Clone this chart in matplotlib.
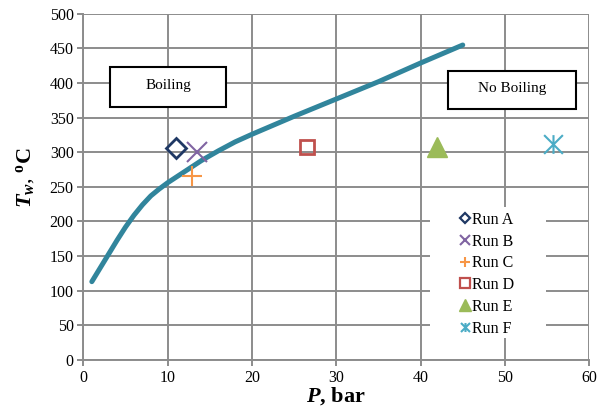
import matplotlib.pyplot as plt
from matplotlib.patches import Rectangle
from matplotlib.path import Path

plt.rcParams['font.family'] = ['Liberation Serif', 'DejaVu Serif']
plt.rcParams['mathtext.fontset'] = 'custom'
plt.rcParams['mathtext.rm'] = 'Liberation Serif:bold'
plt.rcParams['mathtext.it'] = 'Liberation Serif:italic:bold'
plt.rcParams['mathtext.bf'] = 'Liberation Serif:bold'

# boiling boundary curve
curve_p = [1, 2, 3, 4, 5, 6, 7, 8, 9, 10, 12, 14, 16, 18, 20, 25, 30, 35, 40, 45]
curve_t = [113, 133, 153, 173, 192, 209, 224, 237, 247, 256, 272, 288, 302,
           315, 326, 352, 377, 402, 429, 455]

# experimental runs
runs = ['Run A', 'Run B', 'Run C', 'Run D', 'Run E', 'Run F']
run_p = [11.0, 13.5, 12.9, 26.5, 42.0, 55.7]
run_t = [306, 300, 266, 307, 307, 312]
colors = ['#1F3864', '#8064A2', '#F79646', '#C0504D', '#9BBB59', '#4BACC6']

# six-armed star: an x with a vertical bar through it
star = Path([(-1, -1), (1, 1), (-1, 1), (1, -1), (0, -1), (0, 1)],
            [Path.MOVETO, Path.LINETO] * 3)

styles = [
    dict(marker='D', ms=10, mfc='none', mew=2),
    dict(marker='x', ms=14, mew=1.5),
    dict(marker='+', ms=14, mew=1.5),
    dict(marker='s', ms=9.5, mfc='none', mew=2),
    dict(marker='^', ms=15),
    dict(marker=star, ms=13.5, mfc='none', mew=1.5),
]
legend_ms = [5.5, 7, 7, 6.5, 8.5, 6.5]

fig, ax = plt.subplots(figsize=(6, 4.08), dpi=100)
fig.subplots_adjust(left=0.139, right=0.982, bottom=0.118, top=0.966)

ax.plot(curve_p, curve_t, color='#31859C', lw=3.6, solid_capstyle='round',
        solid_joinstyle='round', zorder=3)

for name, p, t, c, st in zip(runs, run_p, run_t, colors, styles):
    ax.plot(p, t, ls='none', color=c, mec=c, label=name, zorder=4, **st)

ax.set_xlim(0, 60)
ax.set_ylim(0, 500)
ax.set_xticks(range(0, 61, 10))
ax.set_yticks(range(0, 501, 50))
ax.grid(True, color='#8c8c8c', lw=1.4)
ax.set_axisbelow(True)
for side in ['top', 'right']:
    ax.spines[side].set_visible(False)
for side in ['left', 'bottom']:
    ax.spines[side].set_color('#8c8c8c')
    ax.spines[side].set_linewidth(1.4)
ax.tick_params(colors='#8c8c8c', labelcolor='black', labelsize=11.5,
               length=4, width=1.4, pad=3)

ax.set_xlabel('$P$, bar', fontsize=16, fontweight='bold', labelpad=0)
ax.set_ylabel(r'$T_w$, $^{\mathrm{o}}\mathrm{C}$', fontsize=16)
ax.yaxis.set_label_coords(-0.092, 0.527)

# region labels
for x0, x1, y0, y1, label in [(3.15, 16.9, 366, 423, 'Boiling'),
                              (43.3, 58.4, 362, 417, 'No Boiling')]:
    ax.add_patch(Rectangle((x0, y0), x1 - x0, y1 - y0, fc='white', ec='black',
                           lw=1.5, zorder=5))
    ax.text((x0 + x1) / 2, (y0 + y1) / 2 + 2, label, ha='center', va='center',
            fontsize=11, zorder=6)

# white area behind the legend
ax.add_patch(Rectangle((0.685, 0.064), 0.229, 0.378, transform=ax.transAxes,
                       fc='white', ec='none', zorder=2))
leg = ax.legend(loc='upper left', bbox_to_anchor=(0.743, 0.428), frameon=False,
                fontsize=11.5, handlelength=0.7, handletextpad=0.1,
                labelspacing=0.36, borderpad=0, borderaxespad=0)
for h, ms in zip(leg.legend_handles, legend_ms):
    h.set_markersize(ms)
    h.set_markeredgewidth(min(h.get_markeredgewidth(), 1.6))

fig.savefig('out.png', dpi=100)
